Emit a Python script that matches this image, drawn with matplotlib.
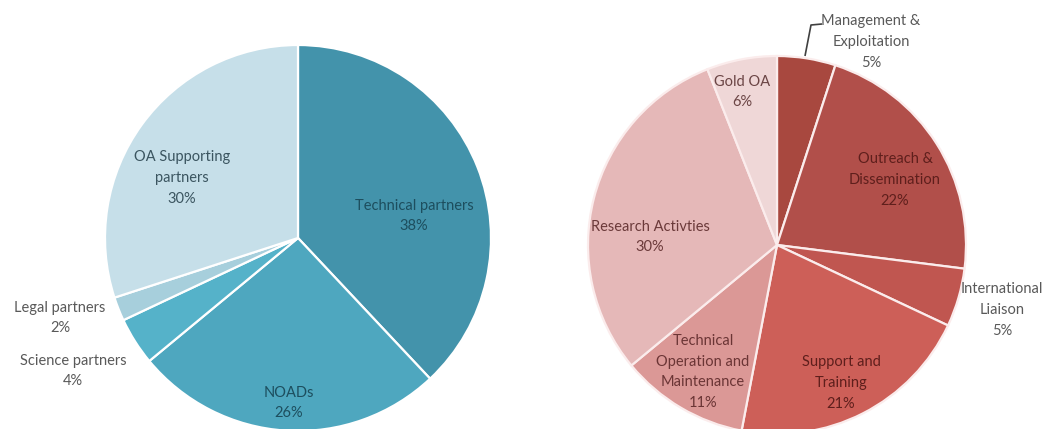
import matplotlib
matplotlib.use("Agg")
import matplotlib.pyplot as plt

# ---- data ----
left_labels = ["Technical partners", "NOADs", "Science partners", "Legal partners",
               "OA Supporting\npartners"]
left_values = [38, 26, 4, 2, 30]

right_labels = ["Management &\nExploitation", "Outreach &\nDissemination",
                "International\nLiaison", "Support and\nTraining",
                "Technical\nOperation and\nMaintenance", "Research Activties", "Gold OA"]
right_values = [5, 22, 5, 21, 11, 30, 6]

# ---- style ----
left_colors = ["#4393ab", "#4ea7bf", "#55b2c9", "#a7cfdc", "#c6dfe9"]
right_colors = ["#a8483f", "#b14f4a", "#c05650", "#cd5f58", "#db9896", "#e5b8b8", "#efd7d7"]

W, H = 1045, 429
fig = plt.figure(figsize=(W / 100, H / 100), dpi=100)
ax = fig.add_axes([0, 0, 1, 1])

def Y(y):
    return H - y

left_center = (298, Y(238)); left_r = 193
right_center = (777, Y(245)); right_r = 189

ax.pie(left_values, colors=left_colors, startangle=90, counterclock=False,
       center=left_center, radius=left_r,
       wedgeprops=dict(edgecolor="white", linewidth=1.6))
ax.pie(right_values, colors=right_colors, startangle=90, counterclock=False,
       center=right_center, radius=right_r,
       wedgeprops=dict(edgecolor="#fbecec", linewidth=1.6))

ax.set_xlim(0, W)
ax.set_ylim(0, H)
ax.set_aspect("auto")
ax.axis("off")

font = dict(family="Lato", fontsize=10.5, ha="center", va="center", linespacing=1.6)

# label text positions (pixel coords of text centre), colors
left_pos = [(414, 216), (289, 403), (73, 371), (60, 318), (182, 178)]
left_tcol = ["#1d4e5e", "#1d4e5e", "#595959", "#595959", "#3b5560"]
for lab, v, p, c in zip(left_labels, left_values, left_pos, left_tcol):
    ax.text(p[0], Y(p[1]), f"{lab}\n{v}%", color=c, **font)

right_pos = [(871, 42), (895, 180), (1002, 310), (841, 383), (703, 372), (650, 237), (742, 92)]
right_tcol = ["#595959", "#5e1f1c", "#595959", "#5e1f1c", "#6b3535", "#6b3a3a", "#6b4545"]
for lab, v, p, c in zip(right_labels, right_values, right_pos, right_tcol):
    ax.text(p[0], Y(p[1]), f"{lab}\n{v}%", color=c, **font)

# leader line for Management & Exploitation
ax.plot([822, 811, 805], [Y(24), Y(25), Y(56)], color="#404040", lw=1.2,
        solid_capstyle="butt")

fig.savefig("out.png", dpi=100, facecolor="white")
